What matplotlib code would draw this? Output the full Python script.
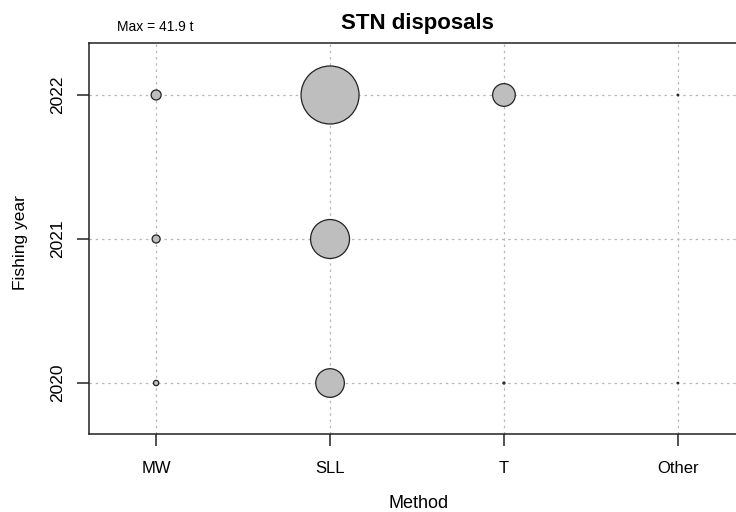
import matplotlib
matplotlib.use("Agg")
import matplotlib.pyplot as plt
import numpy as np

plt.rcParams['font.family'] = ['Liberation Sans', 'DejaVu Sans']

methods = ["MW", "SLL", "T", "Other"]
years = [2020, 2021, 2022]
# disposals (t) by year (rows) and method (columns)
values = {
    2020: [0.35, 10.2, 0.05, 0.03],
    2021: [0.80, 18.9, 0.0, 0.0],
    2022: [1.25, 41.9, 6.4, 0.03],
}
max_value = 41.9
title = "STN disposals"

fig = plt.figure(figsize=(7.36, 5.12), dpi=100)
ax = fig.add_axes([89/736, (512-434)/512, (745-89)/736, (434-43)/512])

max_diam_pt = 2 * 29 * 72 / 100
s_max = max_diam_pt ** 2

xs, ys, ss = [], [], []
for y in years:
    for i, m in enumerate(methods):
        v = values[y][i]
        if v > 0:
            xs.append(i + 1)
            ys.append(y)
            ss.append(max(v / max_value * s_max, 1.0))

ax.set_xlim(0.614, 4.386)
ax.set_ylim(2019.646, 2022.361)
for i in range(len(methods)):
    ax.axvline(i + 1, color='#b8b8b8', linestyle=(0, (2, 3)), linewidth=0.9, zorder=1)
for y in years:
    ax.axhline(y, color='#b8b8b8', linestyle=(0, (2, 3)), linewidth=0.9, zorder=1)

ax.scatter(xs, ys, s=ss, facecolor='#bebebe', edgecolor='#222222', linewidth=0.9, zorder=3)

ax.set_xticks(range(1, len(methods) + 1))
ax.set_xticklabels(methods, fontsize=12)
ax.set_yticks(years)
ax.set_yticklabels([str(y) for y in years], fontsize=12.5, rotation=90, va='center')
ax.tick_params(axis='both', direction='out', length=8.5, width=1.1, colors='#222222', labelcolor='black')
ax.tick_params(axis='x', pad=11)
ax.tick_params(axis='y', pad=9)
for sp in ax.spines.values():
    sp.set_linewidth(1.1)
    sp.set_color('#222222')

ax.set_xlabel("Method", fontsize=13, va='center')
ax.xaxis.set_label_coords((418.5 - 89) / 656, (434 - 504) / 391)
ax.set_ylabel("Fishing year", fontsize=12.5, va='center')
ax.yaxis.set_label_coords((20.5 - 89) / 656, 0.49)
ax.set_title(title, fontsize=16, fontweight='bold', pad=10)
fig.text(117/736, 1 - 27/512, f"Max = {max_value} t", fontsize=10, ha='left', va='center')

fig.savefig("out.png", dpi=100)
